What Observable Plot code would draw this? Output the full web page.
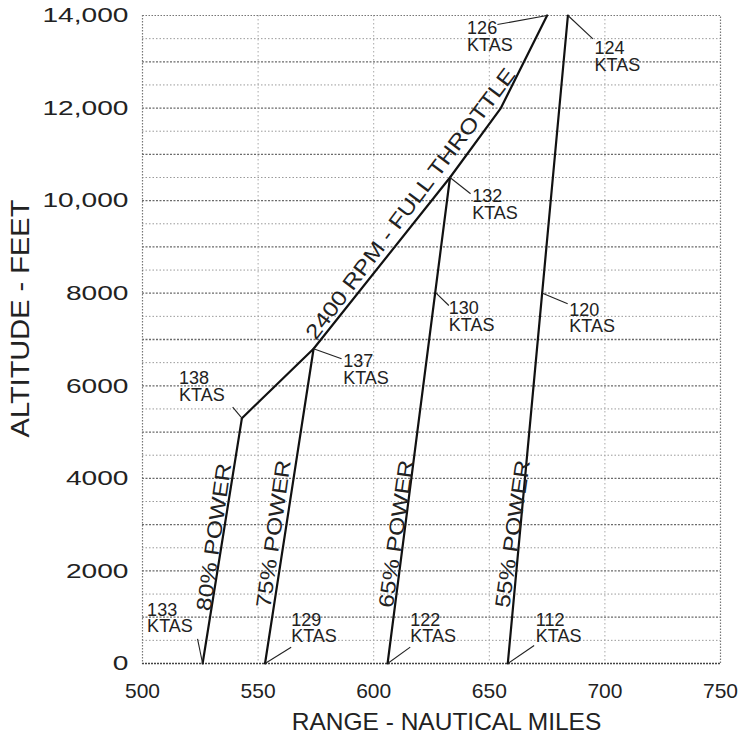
<!DOCTYPE html>
<html>
<head>
<meta charset="utf-8">
<script src="https://cdn.jsdelivr.net/npm/d3@7"></script>
<script src="https://cdn.jsdelivr.net/npm/@observablehq/plot@0.6"></script>
<style>
  html, body { margin: 0; padding: 0; background: #fff; }
</style>
</head>
<body>
<script>
// ---- data ----
const xTicks = [500, 550, 600, 650, 700, 750];
const yTicks = [0, 2000, 4000, 6000, 8000, 10000, 12000, 14000];

// power-setting lines: range at sea level -> range/altitude at full-throttle limit
const powerSettings = ["80% POWER", "75% POWER", "65% POWER", "55% POWER"];
const baseRange = [526, 553, 606, 658];
const topRange = [543, 574, 633, 684];
const topAlt = [5300, 6800, 10500, 14000];
// power label centres (data units)
const powerLabelRange = [531, 556.8, 609.8, 660.2];
const powerLabelAlt = [2730, 2800, 2800, 2800];

// 2400 RPM full-throttle curve
const throttleRange = [543, 574, 633, 655, 675];
const throttleAlt = [5300, 6800, 10500, 12000, 14000];
const throttleLabel = "2400 RPM - FULL THROTTLE";
const throttleLabelRange = 616;
const throttleLabelAlt = 9930;

// KTAS annotations
const ktas = [133, 129, 122, 112, 138, 137, 132, 126, 124, 130, 120];
const ktasPointRange = [526, 553, 606, 658, 543, 574, 633, 675, 684, 627, 673];
const ktasPointAlt = [0, 0, 0, 0, 5300, 6800, 10500, 14000, 14000, 8000, 8000];
const ktasLeaderRange = [523.8, 564.3, 615.8, 669.4, 539, 586.1, 641.9, 653.5, 694.8, 632.5, 683.9];
const ktasLeaderAlt = [533, 353, 353, 389, 5538, 6583, 10148, 13805, 13496, 7735, 7771];
const ktasTextRange = [502, 564.3, 615.8, 670.1, 515.8, 586.8, 642.6, 640.4, 695.5, 632.5, 684.6];
const ktasTextAlt = [1290, 1073, 1073, 1073, 6293, 6654, 10219, 13850, 13423, 7806, 7771];

const yTitle = "ALTITUDE - FEET";
const xTitle = "RANGE - NAUTICAL MILES";

// ---- tables built from the arrays ----
const powerLines = powerSettings.flatMap((p, i) => [
  {p, range: baseRange[i], alt: 0},
  {p, range: topRange[i], alt: topAlt[i]}
]);
const throttle = throttleRange.map((r, i) => ({range: r, alt: throttleAlt[i]}));
const powerLabels = powerSettings.map((p, i) => ({p, range: powerLabelRange[i], alt: powerLabelAlt[i]}));
const ann = ktas.map((k, i) => ({
  label: `${k}\nKTAS`,
  x1: ktasPointRange[i], y1: ktasPointAlt[i],
  x2: ktasLeaderRange[i], y2: ktasLeaderAlt[i],
  tx: ktasTextRange[i], ty: ktasTextAlt[i]
}));
const minorY = d3.range(500, 14000, 1000);
const majorY = d3.range(1000, 14000, 1000);
const gridX = [550, 600, 650, 700];
const yFormat = d => d >= 10000 ? d3.format(",")(d) : String(d);

const FONT = "'Liberation Sans', Arial, Helvetica, sans-serif";

const chart = Plot.plot({
  width: 743,
  height: 739,
  marginLeft: 142,
  marginRight: 23,
  marginTop: 15,
  marginBottom: 76,
  style: {fontFamily: FONT, background: "#fff", color: "#222"},
  x: {domain: [500, 750], label: null},
  y: {domain: [0, 14000], label: null},
  marks: [
    Plot.ruleY(minorY, {stroke: "#9a9a9a", strokeWidth: 1, strokeDasharray: "1.5,2"}),
    Plot.ruleY(majorY, {stroke: "#6a6a6a", strokeWidth: 1.3, strokeDasharray: "2,1.5"}),
    Plot.ruleX(gridX, {stroke: "#a8a8a8", strokeWidth: 1, strokeDasharray: "1.5,2.5"}),
    Plot.frame({stroke: "#777", strokeWidth: 1.2, strokeDasharray: "1.5,1.5"}),
    Plot.ruleY([0], {stroke: "#444", strokeWidth: 1.5, strokeDasharray: "2,1"}),
    Plot.axisX({ticks: xTicks, tickSize: 0, tickPadding: 20, fontSize: 21, fill: "#222", label: null}),
    Plot.axisY({ticks: yTicks, tickSize: 0, tickPadding: 14, fontSize: 21, fill: "#222", label: null,
      tickFormat: yFormat}),
    Plot.line(powerLines, {x: "range", y: "alt", z: "p", stroke: "#111", strokeWidth: 2.2}),
    Plot.line(throttle, {x: "range", y: "alt", stroke: "#111", strokeWidth: 2.2}),
    Plot.link(ann, {x1: "x1", y1: "y1", x2: "x2", y2: "y2", stroke: "#222", strokeWidth: 1.1}),
    Plot.text(ann, {x: "tx", y: "ty", text: "label", textAnchor: "start", lineAnchor: "top",
      fontSize: 18, lineHeight: 0.93, fill: "#222"}),
    Plot.text(powerLabels, {x: "range", y: "alt", text: "p", rotate: -82, fontSize: 21, fill: "#222"}),
    Plot.text([throttleLabel], {x: () => throttleLabelRange, y: () => throttleLabelAlt, text: d => d,
      rotate: -53, fontSize: 21, fill: "#222"}),
    Plot.text([yTitle], {frameAnchor: "left", text: d => d, rotate: -90, dx: -122, dy: -21,
      textAnchor: "middle", lineAnchor: "middle", fontSize: 25, fill: "#222"}),
    Plot.text([xTitle], {frameAnchor: "bottom", text: d => d, dx: 15, dy: 59,
      textAnchor: "middle", lineAnchor: "middle", fontSize: 24.5, fill: "#222"})
  ]
});

document.body.append(chart);

// widen glyphs along the baseline to match the wide lettering of the original figure
const yTickText = new Set(yTicks.map(yFormat));
const widenBy = new Map([
  ...powerSettings.map(p => [p, 1.17]),
  [throttleLabel, 1.17],
  [yTitle, 1.16]
]);
d3.select(chart).selectAll("text").each(function () {
  if (this.querySelector("tspan")) return;
  const s = this.textContent;
  const k = widenBy.get(s) ?? (yTickText.has(s) && this.getAttribute("text-anchor") !== "middle" &&
    this.closest('g[aria-label="y-axis tick label"]') ? 1.34 : null);
  if (!k) return;
  const xa = this.getAttribute("x");
  if (xa != null && isFinite(+xa)) this.setAttribute("x", +xa / k);
  const t = this.getAttribute("transform") || "";
  this.setAttribute("transform", `${t} scale(${k},1)`);
});
</script>
</body>
</html>
